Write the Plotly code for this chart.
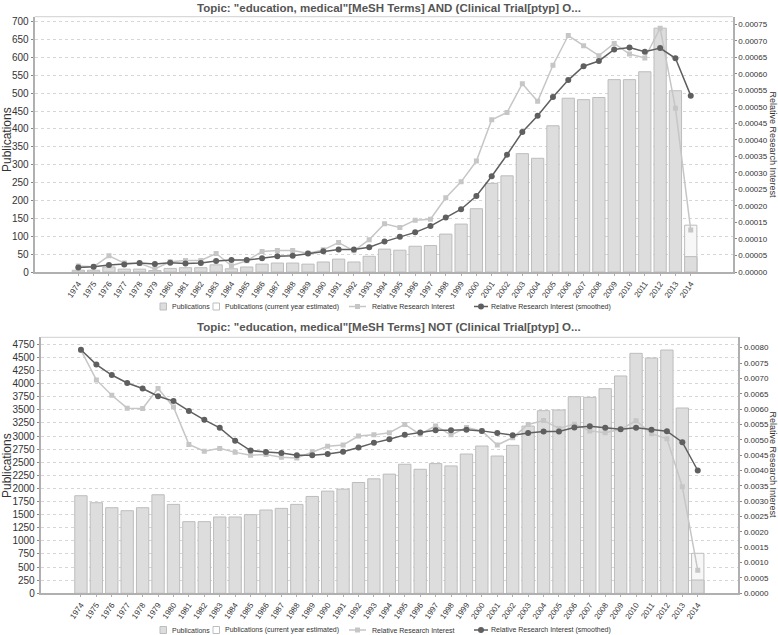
import plotly.graph_objects as go

W, H = 778, 635

years = list(range(1974, 2015))
year_labels = [str(y) for y in years]

# ---- Top chart: AND (Clinical Trial)
pubs_top = [5, 5, 14, 8, 8, 4, 10, 12, 12, 20,
            9, 14, 22, 25, 25, 22, 28, 36, 28, 44,
            64, 61, 72, 74, 106, 134, 177, 248, 269, 331,
            318, 409, 486, 482, 488, 538, 538, 560, 682, 507,
            43]
est_year_top = [2014]
est_top = [131]
rri_top = [1.8e-5, 1.6e-5, 4.9e-5, 2.7e-5, 2.6e-5, 0.9e-5, 3.1e-5, 3.5e-5, 3.5e-5, 5.6e-5,
           1.9e-5, 3.4e-5, 6.2e-5, 6.5e-5, 6.5e-5, 5.7e-5, 6.7e-5, 8.9e-5, 6.4e-5, 9.8e-5,
           1.46e-4, 1.35e-4, 1.57e-4, 1.60e-4, 2.25e-4, 2.73e-4, 3.36e-4, 4.61e-4, 4.83e-4, 5.70e-4,
           5.17e-4, 6.26e-4, 7.16e-4, 6.85e-4, 6.55e-4, 6.92e-4, 6.60e-4, 6.48e-4, 7.38e-4, 4.96e-4,
           1.27e-4]
smooth_top = [1.4e-5, 1.6e-5, 2.1e-5, 2.3e-5, 2.7e-5, 2.4e-5, 2.8e-5, 2.6e-5, 2.7e-5, 3.3e-5,
              3.6e-5, 3.6e-5, 4.2e-5, 4.8e-5, 4.9e-5, 5.6e-5, 6.3e-5, 6.8e-5, 6.8e-5, 7.5e-5,
              9.2e-5, 1.07e-4, 1.20e-4, 1.39e-4, 1.65e-4, 1.90e-4, 2.30e-4, 2.90e-4, 3.55e-4, 4.24e-4,
              4.73e-4, 5.30e-4, 5.81e-4, 6.23e-4, 6.39e-4, 6.74e-4, 6.80e-4, 6.67e-4, 6.78e-4, 6.47e-4,
              5.34e-4]

# ---- Bottom chart: NOT (Clinical Trial)
pubs_bot = [1861, 1728, 1633, 1576, 1633, 1880, 1696, 1367, 1367, 1456,
            1456, 1500, 1589, 1620, 1696, 1848, 1949, 1987, 2114, 2184,
            2274, 2462, 2366, 2474, 2430, 2657, 2810, 2619, 2823, 3191,
            3484, 3497, 3751, 3739, 3904, 4146, 4578, 4489, 4641, 3535,
            254]
est_year_bot = [2014]
est_bot = [763]
rri_bot = [0.00792, 0.00695, 0.00645, 0.00603, 0.00602, 0.00667, 0.00607, 0.00485, 0.00463, 0.00472,
           0.00459, 0.00450, 0.00452, 0.00443, 0.00441, 0.00461, 0.00479, 0.00483, 0.00512, 0.00516,
           0.00523, 0.00550, 0.00518, 0.00545, 0.00516, 0.00540, 0.00529, 0.00483, 0.00507, 0.00550,
           0.00563, 0.00537, 0.00551, 0.00529, 0.00523, 0.00534, 0.00562, 0.00520, 0.00503, 0.00347,
           0.00075]
smooth_bot = [0.00793, 0.00745, 0.00711, 0.00685, 0.00667, 0.00642, 0.00626, 0.00594, 0.00565, 0.00539,
              0.00497, 0.00465, 0.00460, 0.00457, 0.00450, 0.00450, 0.00454, 0.00461, 0.00475, 0.00490,
              0.00502, 0.00516, 0.00524, 0.00531, 0.00531, 0.00533, 0.00529, 0.00522, 0.00515, 0.00522,
              0.00527, 0.00527, 0.00540, 0.00544, 0.00539, 0.00534, 0.00539, 0.00533, 0.00528, 0.00492,
              0.00400]

title_top = 'Topic: "education, medical"[MeSH Terms] AND (Clinical Trial[ptyp] O...'
title_bot = 'Topic: "education, medical"[MeSH Terms] NOT (Clinical Trial[ptyp] O...'
legend_labels = ["Publications", "Publications (current year estimated)",
                 "Relative Research Interest", "Relative Research Interest (smoothed)"]

BAR_FILL = "#dddddd"
BAR_LINE = "#bdbdbd"
EST_FILL = "#f7f7f7"
LIGHT = "#c6c6c6"
DARK = "#5f5f5f"
FONT = "Liberation Sans, Arial, sans-serif"


def px_x(p):
    return p / W


def px_y(p):
    return 1 - p / H


fig = go.Figure()


def add_chart(xa, ya, ya2, pubs, est_x, est_y, rri, smooth):
    fig.add_trace(go.Bar(x=years, y=pubs, name=legend_labels[0],
                         marker=dict(color=BAR_FILL, line=dict(color=BAR_LINE, width=1)),
                         width=0.8, xaxis=xa, yaxis=ya, showlegend=False))
    fig.add_trace(go.Bar(x=est_x, y=est_y, name=legend_labels[1],
                         marker=dict(color=EST_FILL, line=dict(color=BAR_LINE, width=1)),
                         width=0.8, xaxis=xa, yaxis=ya, showlegend=False))
    # filled part of the current-year bar, drawn above the estimated box
    fig.add_trace(go.Bar(x=est_x, y=[pubs[-1]], name=legend_labels[0],
                         marker=dict(color=BAR_FILL, line=dict(color=BAR_LINE, width=1)),
                         width=0.8, xaxis=xa, yaxis=ya, showlegend=False))
    fig.add_trace(go.Scatter(x=years, y=rri, name=legend_labels[2],
                             mode="lines+markers",
                             line=dict(color=LIGHT, width=1.5),
                             marker=dict(symbol="square", size=5, color=LIGHT),
                             xaxis=xa, yaxis=ya2, showlegend=False))
    fig.add_trace(go.Scatter(x=years, y=smooth, name=legend_labels[3],
                             mode="lines+markers",
                             line=dict(color=DARK, width=1.5),
                             marker=dict(symbol="circle", size=6, color=DARK),
                             xaxis=xa, yaxis=ya2, showlegend=False))


add_chart("x", "y", "y2", pubs_top, est_year_top, est_top, rri_top, smooth_top)
add_chart("x2", "y3", "y4", pubs_bot, est_year_bot, est_bot, rri_bot, smooth_bot)

tickfont = dict(family=FONT, size=10, color="#333333")
rtickfont = dict(family=FONT, size=8, color="#333333")
xtickfont = dict(family=FONT, size=8, color="#333333")

xcommon = dict(tickmode="array", tickvals=years, ticktext=year_labels, tickangle=-55,
               tickfont=xtickfont, showgrid=False, showline=True, linecolor="#b0b0b0",
               linewidth=2, mirror=False, ticks="outside", ticklen=2, tickcolor="#b0b0b0",
               zeroline=False, automargin=False, fixedrange=True)
ycommon = dict(showline=True, linecolor="#b0b0b0", linewidth=2, ticks="outside", ticklen=2,
               tickcolor="#888888", zeroline=False, automargin=False, fixedrange=True)

fig.update_layout(
    width=W, height=H,
    margin=dict(l=0, r=0, t=0, b=0),
    paper_bgcolor="white", plot_bgcolor="white",
    barmode="overlay", bargap=0.2,
    showlegend=False,
    hovermode=False,
    font=dict(family=FONT, color="#333333"),
    xaxis=dict(domain=[px_x(34.7), px_x(732.7)], anchor="y", range=[1971.15, 2016.74], **xcommon),
    yaxis=dict(domain=[px_y(272), px_y(16.7)], anchor="x", range=[0, 714], dtick=50,
               showgrid=True, gridcolor="#d6d6d6", griddash="dot", gridwidth=1,
               tickfont=tickfont, **ycommon),
    yaxis2=dict(overlaying="y", side="right", anchor="x", range=[0, 0.000773], dtick=0.00005,
                tickformat=".5f", showgrid=False, tickfont=rtickfont, **ycommon),
    xaxis2=dict(domain=[px_x(40.7), px_x(738.3)], anchor="y3", range=[1971.39, 2016.63], **xcommon),
    yaxis3=dict(domain=[px_y(593.3), px_y(337.3)], anchor="x2", range=[0, 4884], dtick=250,
                showgrid=True, gridcolor="#d6d6d6", griddash="dot", gridwidth=1,
                tickfont=tickfont, **ycommon),
    yaxis4=dict(overlaying="y3", side="right", anchor="x2", range=[0, 0.008338], dtick=0.0005,
                tickformat=".4f", showgrid=False, tickfont=rtickfont, **ycommon),
)

annotations = [
    dict(text="<b>" + title_top + "</b>", x=px_x(389), y=px_y(8),
         xref="paper", yref="paper", showarrow=False, xanchor="center", yanchor="middle",
         font=dict(family=FONT, size=11.5, color="#555555")),
    dict(text="<b>" + title_bot + "</b>", x=px_x(389), y=px_y(327),
         xref="paper", yref="paper", showarrow=False, xanchor="center", yanchor="middle",
         font=dict(family=FONT, size=11.5, color="#555555")),
    dict(text="Publications", x=px_x(7), y=px_y(140), xref="paper", yref="paper",
         showarrow=False, textangle=-90, xanchor="center", yanchor="middle",
         font=dict(family=FONT, size=12, color="#333333")),
    dict(text="Publications", x=px_x(7), y=px_y(466), xref="paper", yref="paper",
         showarrow=False, textangle=-90, xanchor="center", yanchor="middle",
         font=dict(family=FONT, size=12, color="#333333")),
    dict(text="Relative Research Interest", x=px_x(772.5), y=px_y(145), xref="paper", yref="paper",
         showarrow=False, textangle=90, xanchor="center", yanchor="middle",
         font=dict(family=FONT, size=9, color="#333333")),
    dict(text="Relative Research Interest", x=px_x(772.5), y=px_y(465), xref="paper", yref="paper",
         showarrow=False, textangle=90, xanchor="center", yanchor="middle",
         font=dict(family=FONT, size=9, color="#333333")),
]

shapes = [
    dict(type="line", xref="x domain", yref="y domain", x0=0, x1=1, y0=1, y1=1,
         line=dict(color="#d0d0d0", width=1)),
    dict(type="line", xref="x2 domain", yref="y3 domain", x0=0, x1=1, y0=1, y1=1,
         line=dict(color="#d0d0d0", width=1)),
]

# custom compact legends (one below each chart)
text_x = [169.5, 222.5, 370, 489]
for ly in (306.5, 630):
    shapes.append(dict(type="rect", xref="paper", yref="paper",
                       x0=px_x(160), x1=px_x(166.5), y0=px_y(ly + 3.5), y1=px_y(ly - 3.5),
                       fillcolor=BAR_FILL, line=dict(color=BAR_LINE, width=1)))
    shapes.append(dict(type="rect", xref="paper", yref="paper",
                       x0=px_x(213), x1=px_x(219.5), y0=px_y(ly + 3.5), y1=px_y(ly - 3.5),
                       fillcolor="white", line=dict(color=BAR_LINE, width=1)))
    shapes.append(dict(type="line", xref="paper", yref="paper",
                       x0=px_x(349), x1=px_x(366), y0=px_y(ly), y1=px_y(ly),
                       line=dict(color=LIGHT, width=1.5)))
    shapes.append(dict(type="rect", xref="paper", yref="paper",
                       x0=px_x(355), x1=px_x(360), y0=px_y(ly + 2.5), y1=px_y(ly - 2.5),
                       fillcolor=LIGHT, line=dict(width=0)))
    shapes.append(dict(type="line", xref="paper", yref="paper",
                       x0=px_x(474), x1=px_x(488), y0=px_y(ly), y1=px_y(ly),
                       line=dict(color=DARK, width=1.5)))
    shapes.append(dict(type="circle", xref="paper", yref="paper",
                       x0=px_x(478), x1=px_x(484), y0=px_y(ly + 3), y1=px_y(ly - 3),
                       fillcolor=DARK, line=dict(width=0)))
    for tx, label in zip(text_x, legend_labels):
        annotations.append(dict(text=label, x=px_x(tx), y=px_y(ly), xref="paper", yref="paper",
                                showarrow=False, xanchor="left", yanchor="middle",
                                font=dict(family=FONT, size=7, color="#333333")))

fig.update_layout(annotations=annotations, shapes=shapes)

fig.write_html(
    "out.html",
    config={"displayModeBar": False, "staticPlot": True},
    post_script=("document.body.style.margin='0';document.body.style.padding='0';"
                 "document.documentElement.style.overflow='hidden';"),
)
